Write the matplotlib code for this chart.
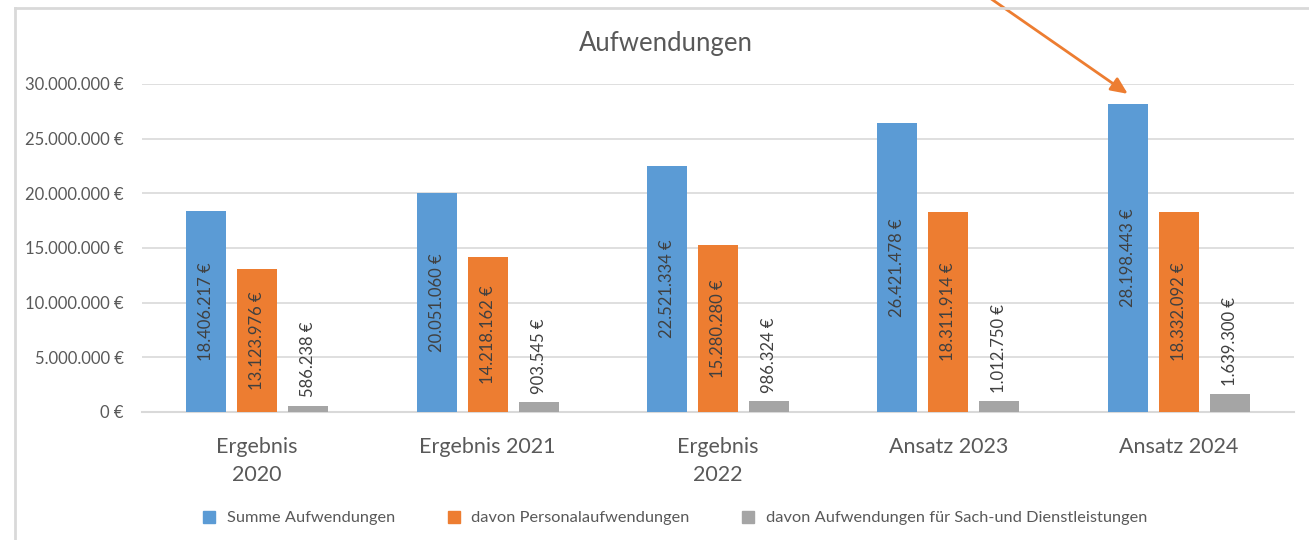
import matplotlib
matplotlib.use("Agg")
import matplotlib.pyplot as plt
import numpy as np
from matplotlib.lines import Line2D

plt.rcParams['font.family'] = ['Lato', 'DejaVu Sans']

categories = ["Ergebnis\n2020", "Ergebnis 2021", "Ergebnis\n2022", "Ansatz 2023", "Ansatz 2024"]
summe = [18406217, 20051060, 22521334, 26421478, 28198443]
personal = [13123976, 14218162, 15280280, 18311914, 18332092]
sach = [586238, 903545, 986324, 1012750, 1639300]
series_names = ["Summe Aufwendungen", "davon Personalaufwendungen",
                "davon Aufwendungen für Sach-und Dienstleistungen"]
colors = ["#5B9BD5", "#ED7D31", "#A5A5A5"]
text_color = "#595959"

def fmt(v):
    return f"{v:,.0f}".replace(",", ".") + " €"

W, H = 1309, 540
fig = plt.figure(figsize=(W / 100, H / 100), dpi=100)
ax = fig.add_axes([142 / W, (H - 412) / H, (1294 - 142) / W, (412 - 84) / H])

x = np.arange(len(categories))
bw = 40 / 230.4
step = 51 / 230.4
all_series = [summe, personal, sach]
for i, (vals, c) in enumerate(zip(all_series, colors)):
    pos = x + (i - 1) * step
    ax.bar(pos, vals, width=bw, color=c, zorder=3)
    for p, v in zip(pos, vals):
        if i < 2:
            ax.text(p, v / 2, fmt(v), rotation=90, ha='center', va='center',
                    fontsize=12, color='#404040', zorder=4)
        else:
            ax.annotate(fmt(v), (p, v), xytext=(0, 6), textcoords='offset points',
                        rotation=90, ha='center', va='bottom', fontsize=12,
                        color='#404040', zorder=4)

ax.set_xlim(-0.5, len(categories) - 0.5)
ax.set_ylim(0, 30e6)
ax.set_yticks(np.arange(0, 30e6 + 1, 5e6))
ax.set_yticklabels([fmt(v) for v in np.arange(0, 30e6 + 1, 5e6)])
ax.set_xticks(x)
ax.set_xticklabels(categories, fontsize=15.5, color=text_color, linespacing=1.5)
ax.tick_params(axis='both', length=0, colors=text_color)
ax.tick_params(axis='y', labelsize=12, pad=13)
ax.tick_params(axis='x', pad=18)
for lab in ax.get_xticklabels():
    lab.set_verticalalignment('top')
ax.grid(axis='y', color='#D9D9D9', linewidth=1.2, zorder=0)
for s in ['top', 'right', 'left']:
    ax.spines[s].set_visible(False)
ax.spines['bottom'].set_color('#D9D9D9')
ax.spines['bottom'].set_linewidth(1.5)

fig.text(666 / W, 1 - 44 / H, "Aufwendungen", ha='center', va='center',
         fontsize=18.5, color=text_color)

handles = [Line2D([0], [0], marker='s', linestyle='none', markersize=9,
                  markerfacecolor=c, markeredgecolor=c) for c in colors]
fig.legend(handles, series_names, loc='center', bbox_to_anchor=(670 / W, 1 - 518 / H),
           ncol=3, frameon=False, fontsize=11.8, labelcolor=text_color,
           handletextpad=0.05, columnspacing=2.6)

# chart frame
fig.add_artist(Line2D([15 / W, 15 / W], [0, 1 - 8 / H], transform=fig.transFigure,
                      color='#D9D9D9', linewidth=2))
fig.add_artist(Line2D([15 / W, 1], [1 - 8 / H, 1 - 8 / H], transform=fig.transFigure,
                      color='#D9D9D9', linewidth=2))

# arrow
ax.annotate("", xy=(4 - step, summe[4] + 0.9e6), xycoords='data',
            xytext=(985 / W, 1.01), textcoords='figure fraction',
            arrowprops=dict(arrowstyle='-|>,head_length=1.0,head_width=0.45',
                            color='#ED7D31', lw=2, shrinkA=0, shrinkB=0),
            annotation_clip=False)

fig.savefig("out.png", dpi=100)
